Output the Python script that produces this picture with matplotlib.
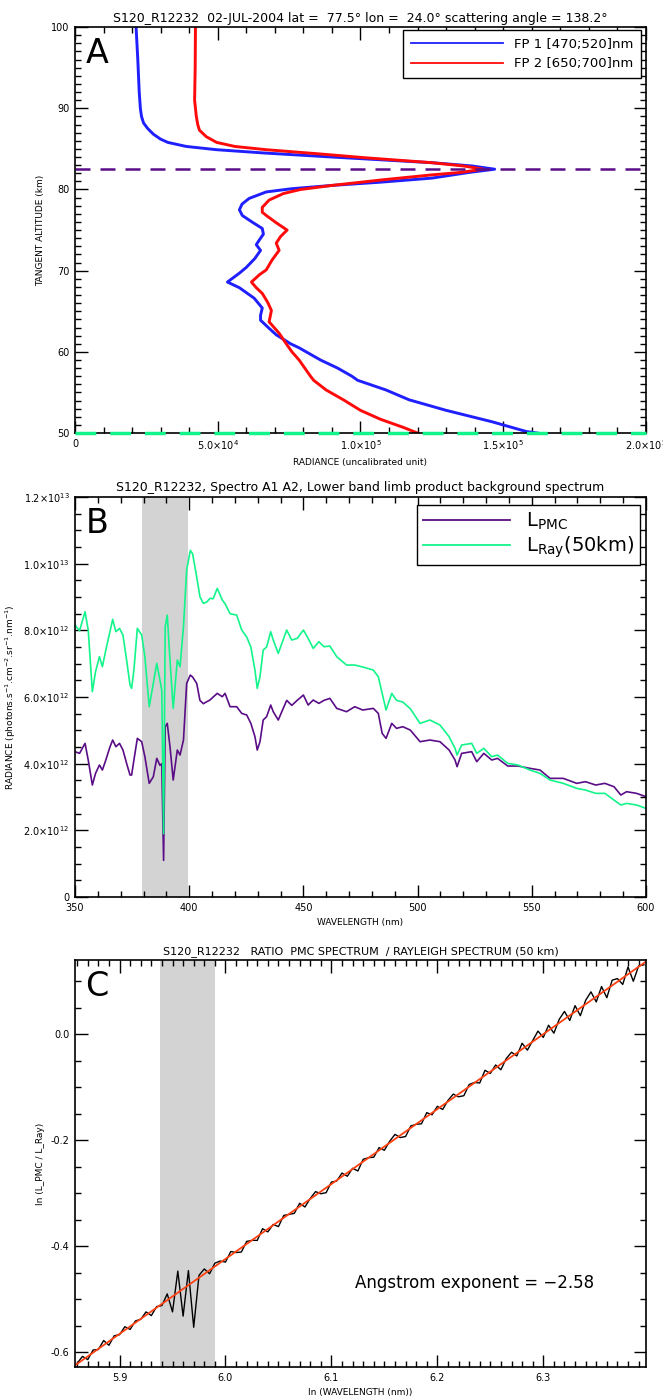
import numpy as np
import matplotlib.pyplot as plt
from matplotlib.ticker import MultipleLocator, FuncFormatter

plt.rcParams['font.family'] = ['DejaVu Sans']
plt.rcParams['mathtext.fontset'] = 'dejavusans'

# ---- panel A : limb profiles, radiance in units of 1e4 ----
alt_fp1 = [100, 96, 92, 90, 89, 88.2, 87.5, 86.8, 86.2, 85.8, 85.3, 84.9, 84.5, 84.0,
           83.6, 83.3, 82.9, 82.5, 82.1, 81.4, 80.9, 80.5, 80.1, 79.7, 78.9, 78.2, 77.5,
           76.8, 76.0, 75.2, 74.5, 73.8, 73.2, 72.5, 71.5, 70.4, 69.7, 68.6, 67.9, 66.6,
           65.4, 64.5, 63.9, 62.9, 62.1, 61.0, 60.5, 59, 58, 57, 56.5, 55.3, 54.1, 52.8,
           51.4, 50.2, 50.0]
rad_fp1 = [2.14, 2.2, 2.25, 2.29, 2.33, 2.40, 2.55, 2.75, 3.0, 3.25, 3.9, 4.96, 6.6, 9.0,
           11.0, 12.5, 13.9, 14.7, 13.8, 12.5, 10.7, 9.0, 7.6, 6.7, 6.1, 5.85, 5.76,
           5.86, 6.2, 6.56, 6.6, 6.46, 6.35, 6.5, 6.3, 6.0, 5.76, 5.34, 5.76, 6.28,
           6.56, 6.5, 6.5, 6.8, 7.05, 7.55, 7.85, 8.6, 9.2, 9.7, 9.9, 10.9, 11.7, 13.0,
           14.6, 15.8, 16.2]

alt_fp2 = [100, 95, 91, 89, 88, 87.3, 86.5, 85.8, 85.3, 84.9, 84.4, 83.9, 83.3, 82.9,
           82.5, 82.1, 81.8, 81.2, 80.5, 80.0, 79.5, 78.7, 77.8, 77.2, 76.8, 75.9, 75.0,
           74.2, 73.4, 72.5, 71.3, 70.1, 69.5, 68.6, 67.9, 67.2, 66.1, 65.1, 63.7, 62.3,
           61.0, 60, 59, 58, 57, 56.5, 55.3, 54.1, 52.8, 51.7, 50.7, 50.0]
rad_fp2 = [4.22, 4.21, 4.19, 4.25, 4.3, 4.36, 4.6, 4.96, 5.6, 6.7, 8.5, 10.2, 12.5, 13.6,
           14.3, 13.5, 12.5, 10.8, 9.0, 7.9, 7.3, 6.8, 6.56, 6.56, 6.7, 7.05, 7.43,
           7.2, 7.05, 7.15, 6.9, 6.7, 6.46, 6.18, 6.35, 6.56, 6.75, 6.88, 6.8, 7.15,
           7.4, 7.6, 7.85, 8.05, 8.25, 8.36, 8.8, 9.4, 10.0, 10.7, 11.5, 12.0]

pmc_alt = 82.5      # dashed line, PMC peak altitude
ray_alt = 50.0      # dashed line, Rayleigh reference altitude

# ---- panel B : spectra, radiance in units of 1e12 ----
wl = [350.0, 352.0, 354.4, 355.8, 357.6, 359.0, 360.7, 362.0, 363.5, 365.3, 366.5, 367.9,
      369.5, 371.0, 372.6, 374.1, 374.8, 375.8, 377.3, 379.2, 380.6, 382.5, 384.3, 385.8,
      387.2, 388.0, 388.8, 389.5, 390.4, 391.6, 393.0, 394.8, 396.0, 397.5, 398.9, 400.5,
      401.5, 403.3, 404.7, 406.2, 407.7, 409.1, 410.5, 412.3, 414.5, 415.7, 417.9, 420.8,
      423.0, 425.2, 427.0, 428.8, 429.8, 431.0, 432.4, 433.9, 435.7, 436.8, 439.0, 440.8,
      442.7, 444.9, 447.3, 450.0, 452.1, 454.3, 456.8, 459.0, 461.6, 464.6, 468.9, 472.5,
      476.0, 480.6, 482.8, 484.5, 486.2, 488.7, 490.8, 493.5, 496.8, 501.1, 505.4, 509.8,
      513.8, 516.4, 517.3, 519.3, 523.7, 525.9, 529.0, 532.5, 535.0, 539.5, 544.0, 549.2,
      553.6, 558.0, 563.8, 569.7, 573.5, 578.0, 582.0, 586.0, 589.0, 591.5, 595.9, 600.0]
l_ray = [8.16, 7.99, 8.56, 8.01, 6.16, 6.76, 7.21, 6.91, 7.41, 7.96, 8.33, 7.96,
         8.06, 7.86, 7.11, 6.36, 6.26, 6.81, 8.06, 7.86, 7.21, 5.71, 6.41, 7.01,
         6.51, 6.2, 1.9, 8.11, 8.46, 7.11, 5.66, 7.11, 6.91, 8.11, 9.81, 10.4,
         10.3, 9.6, 9.01, 8.81, 8.85, 8.96, 8.95, 9.26, 8.91, 8.8, 8.5, 8.46,
         8.01, 7.8, 7.5, 6.81, 6.26, 6.61, 7.41, 7.5, 7.96, 7.71, 7.31, 7.65,
         8.01, 7.71, 7.76, 8.01, 7.76, 7.46, 7.66, 7.51, 7.53, 7.21, 6.96, 6.96,
         6.9, 6.81, 6.61, 6.11, 5.61, 6.11, 5.9, 5.85, 5.65, 5.21, 5.31, 5.16,
         4.81, 4.46, 4.26, 4.56, 4.61, 4.31, 4.46, 4.21, 4.26, 4.01, 3.96, 3.81,
         3.71, 3.51, 3.41, 3.26, 3.21, 3.11, 3.11, 2.91, 2.76, 2.81, 2.76, 2.66]
l_pmc = [4.36, 4.31, 4.61, 4.11, 3.36, 3.71, 3.96, 3.81, 4.11, 4.50, 4.71, 4.51,
         4.61, 4.41, 4.01, 3.66, 3.66, 4.11, 4.76, 4.66, 4.21, 3.41, 3.61, 4.16,
         3.95, 4.0, 1.1, 5.11, 5.21, 4.51, 3.51, 4.41, 4.26, 4.71, 6.41, 6.66,
         6.6, 6.41, 5.9, 5.8, 5.86, 5.91, 6.0, 6.11, 6.01, 6.11, 5.71, 5.71,
         5.51, 5.46, 5.21, 4.81, 4.41, 4.66, 5.31, 5.41, 5.76, 5.56, 5.31, 5.6,
         5.9, 5.75, 5.9, 6.06, 5.76, 5.91, 5.81, 5.9, 5.96, 5.66, 5.56, 5.71,
         5.61, 5.66, 5.51, 4.91, 4.76, 5.21, 5.06, 5.11, 5.01, 4.66, 4.71, 4.66,
         4.41, 4.11, 3.91, 4.31, 4.36, 4.06, 4.31, 4.11, 4.16, 3.93, 3.93, 3.86,
         3.81, 3.56, 3.56, 3.41, 3.46, 3.36, 3.41, 3.31, 3.06, 3.16, 3.11, 3.01]

# ---- panel C : ln(L_PMC / L_Ray) read every 0.005 in ln(wavelength) from 5.860 ----
ln_wl_start, ln_wl_step = 5.860, 0.005
ln_ratio = [-0.621, -0.608, -0.614, -0.596, -0.595, -0.578, -0.587, -0.569, -0.567, -0.552,
            -0.557, -0.541, -0.538, -0.524, -0.531, -0.514, -0.512, -0.490, -0.524, -0.447,
            -0.532, -0.446, -0.553, -0.455, -0.443, -0.452, -0.432, -0.428, -0.430, -0.410,
            -0.412, -0.411, -0.391, -0.389, -0.389, -0.367, -0.373, -0.359, -0.363, -0.342,
            -0.340, -0.338, -0.319, -0.326, -0.310, -0.297, -0.301, -0.299, -0.279, -0.277,
            -0.262, -0.268, -0.253, -0.258, -0.236, -0.233, -0.232, -0.214, -0.219, -0.202,
            -0.189, -0.195, -0.193, -0.173, -0.170, -0.169, -0.148, -0.152, -0.136, -0.142,
            -0.125, -0.113, -0.118, -0.116, -0.095, -0.091, -0.092, -0.068, -0.074, -0.058,
            -0.067, -0.046, -0.034, -0.041, -0.017, -0.030, -0.012, 0.006, -0.006, 0.017,
            0.002, 0.028, 0.043, 0.026, 0.054, 0.035, 0.064, 0.080, 0.061, 0.090,
            0.069, 0.102, 0.105, 0.094, 0.127, 0.100, 0.129, 0.131]

band = (379.2, 399.4)   # grey excluded region (nm)
angstrom_label = 'Angstrom exponent = \u22122.58'

col_fp1 = '#1f1fff'
col_fp2 = '#ff0a0a'
col_pmc = '#5a0d87'
col_ray = '#12f58a'
col_band = '#d3d3d3'


def sci_label(v, pos):
    if abs(v) < 1e-9:
        return '0'
    e = int(np.floor(np.log10(abs(v)) + 1e-9))
    return r'%.1f$\times$10$^{%d}$' % (v / 10 ** e, e)


def idl_axes(ax):
    ax.tick_params(which='both', direction='in', top=True, right=True, labelsize=7, pad=4)
    ax.tick_params(which='major', length=9, width=1)
    ax.tick_params(which='minor', length=4.5, width=1)
    for s in ax.spines.values():
        s.set_linewidth(1.2)


def frame_legend(leg, lw):
    leg.get_frame().set_linewidth(1.0)
    for h in leg.legend_handles:
        h.set_linewidth(lw)


fig = plt.figure(figsize=(6.63, 13.97), dpi=100)

# ---------------- A ----------------
axA = fig.add_axes([0.1131, 0.6900, 0.8612, 0.2906])
axA.plot(np.array(rad_fp1) * 1e4, alt_fp1, color=col_fp1, lw=2.1, label='FP 1 [470;520]nm')
axA.plot(np.array(rad_fp2) * 1e4, alt_fp2, color=col_fp2, lw=2.1, label='FP 2 [650;700]nm')
axA.axhline(pmc_alt, color=col_pmc, lw=1.8, dashes=(6, 4))
axA.axhline(ray_alt, color=col_ray, lw=2.5, dashes=(6, 4), clip_on=False, zorder=5)
axA.set_xlim(0, 2e5)
axA.set_ylim(50, 100)
axA.xaxis.set_major_locator(MultipleLocator(5e4))
axA.xaxis.set_minor_locator(MultipleLocator(1e4))
axA.yaxis.set_major_locator(MultipleLocator(10))
axA.yaxis.set_minor_locator(MultipleLocator(1))
axA.xaxis.set_major_formatter(FuncFormatter(sci_label))
idl_axes(axA)
axA.set_xlabel('RADIANCE (uncalibrated unit)', fontsize=6.5)
axA.set_ylabel('TANGENT ALTITUDE (km)', fontsize=6.5)
axA.set_title('S120_R12232  02-JUL-2004 lat =  77.5\u00b0 lon =  24.0\u00b0 scattering angle = 138.2\u00b0',
              fontsize=9, pad=4)
axA.text(0.018, 0.975, 'A', transform=axA.transAxes, fontsize=24, va='top', ha='left')
legA = axA.legend(loc='upper right', bbox_to_anchor=(0.991, 0.993), borderaxespad=0,
                  fontsize=9.5, handlelength=7, frameon=True, fancybox=False,
                  edgecolor='black', framealpha=1, borderpad=0.6)
frame_legend(legA, 1.3)

# ---------------- B ----------------
axB = fig.add_axes([0.1131, 0.3579, 0.8612, 0.2863])
axB.axvspan(band[0], band[1], color=col_band, lw=0, zorder=0)
axB.plot(wl, np.array(l_pmc) * 1e12, color=col_pmc, lw=1.2, label=r'$\mathrm{L}_{\mathrm{PMC}}$')
axB.plot(wl, np.array(l_ray) * 1e12, color=col_ray, lw=1.2, label=r'$\mathrm{L}_{\mathrm{Ray}}$(50km)')
axB.set_xlim(350, 600)
axB.set_ylim(0, 1.2e13)
axB.xaxis.set_major_locator(MultipleLocator(50))
axB.xaxis.set_minor_locator(MultipleLocator(10))
axB.yaxis.set_major_locator(MultipleLocator(2e12))
axB.yaxis.set_minor_locator(MultipleLocator(5e11))
axB.yaxis.set_major_formatter(FuncFormatter(sci_label))
idl_axes(axB)
axB.set_xlabel('WAVELENGTH (nm)', fontsize=6.5)
axB.set_ylabel('RADIANCE (photons.s$^{-1}$.cm$^{-2}$.sr$^{-1}$.nm$^{-1}$)', fontsize=6.5)
axB.set_title('S120_R12232, Spectro A1 A2, Lower band limb product background spectrum',
              fontsize=9, pad=4)
axB.text(0.018, 0.975, 'B', transform=axB.transAxes, fontsize=24, va='top', ha='left')
legB = axB.legend(loc='upper right', bbox_to_anchor=(0.989, 0.98), borderaxespad=0,
                  fontsize=14, handlelength=4.5, frameon=True, fancybox=False,
                  edgecolor='black', framealpha=1, borderpad=0.3, labelspacing=0.1)
frame_legend(legB, 1.3)

# ---------------- C ----------------
x_ln = ln_wl_start + ln_wl_step * np.arange(len(ln_ratio))
ratio = np.array(ln_ratio)
keep = (x_ln < np.log(band[0])) | (x_ln > np.log(band[1]))
coef = np.polyfit(x_ln[keep], ratio[keep], 1)
xfit = np.array([np.log(350.0), np.log(600.0)])

axC = fig.add_axes([0.1131, 0.02147, 0.8612, 0.2913])
axC.axvspan(np.log(band[0]), np.log(band[1]), color=col_band, lw=0, zorder=0)
axC.plot(x_ln, ratio, color='black', lw=1.0)
axC.plot(xfit, np.polyval(coef, xfit), color='#ff4010', lw=1.3)
axC.set_xlim(np.log(350.0), np.log(600.0))
axC.set_ylim(-0.628, 0.14)
axC.xaxis.set_major_locator(MultipleLocator(0.1))
axC.xaxis.set_minor_locator(MultipleLocator(0.01))
axC.yaxis.set_major_locator(MultipleLocator(0.2))
axC.yaxis.set_minor_locator(MultipleLocator(0.05))
axC.xaxis.set_major_formatter(FuncFormatter(lambda v, p: '%.1f' % v))
axC.yaxis.set_major_formatter(FuncFormatter(lambda v, p: '%.1f' % v))
idl_axes(axC)
axC.set_xlabel('ln (WAVELENGTH (nm))', fontsize=6.5)
axC.set_ylabel('ln (L_PMC / L_Ray)', fontsize=6.5)
axC.set_title('S120_R12232   RATIO  PMC SPECTRUM  / RAYLEIGH SPECTRUM (50 km)', fontsize=8, pad=4)
axC.text(0.018, 0.975, 'C', transform=axC.transAxes, fontsize=24, va='top', ha='left')
axC.text(0.70, 0.206, angstrom_label, transform=axC.transAxes, fontsize=12,
         ha='center', va='center')

fig.savefig('out.png', dpi=100)
